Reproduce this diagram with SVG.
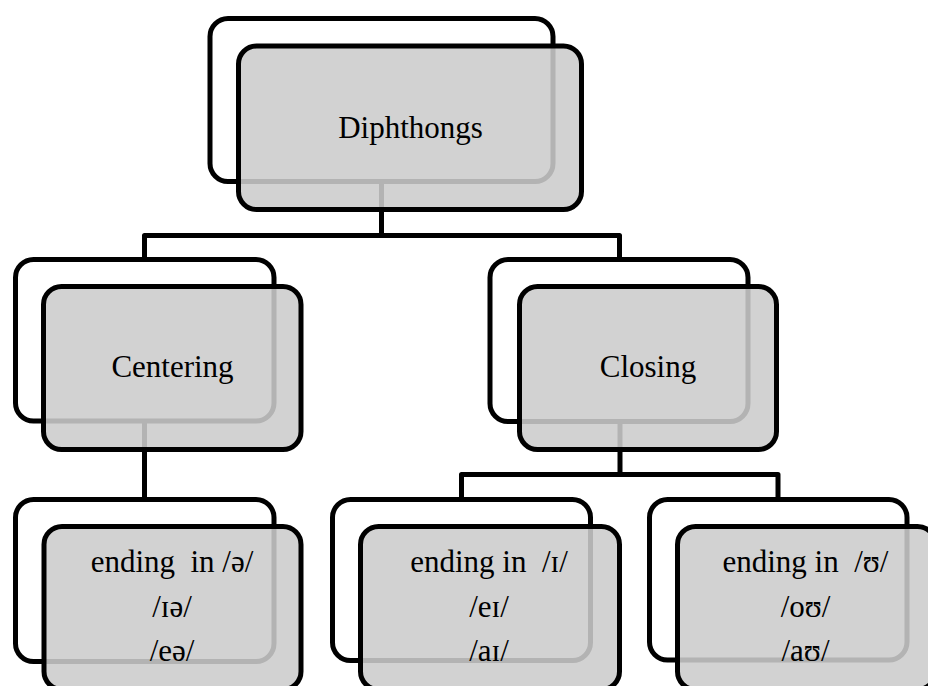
<svg xmlns="http://www.w3.org/2000/svg" width="928" height="686" viewBox="0 0 928 686">
  <style>
    .back { fill: #ffffff; stroke: #000000; stroke-width: 5; }
    .front { fill: #cccccc; fill-opacity: 0.88; stroke: #000000; stroke-width: 5; }
    .wire { fill: none; stroke: #000000; stroke-width: 5; stroke-linejoin: round; }
    .label { font-family: "Liberation Serif", "DejaVu Serif", "Times New Roman", serif; font-size: 31px; fill: #000000; text-anchor: middle; }
  </style>
  <rect width="928" height="686" fill="#ffffff"/>

  <!-- elbow connectors, drawn beneath the nodes -->
  <g id="connectors">
    <path class="wire" d="M381.5,150 V235.5"/>
    <path class="wire" d="M144.5,262 V235.5 H619.5 V262"/>
    <path class="wire" d="M144.5,400 V502"/>
    <path class="wire" d="M620,400 V474.5"/>
    <path class="wire" d="M461.5,502 V474.5 H778 V502"/>
  </g>

  <g id="diphthongs">
    <rect class="back" x="210" y="18.5" width="343" height="163" rx="18"/>
    <rect class="front" x="238.5" y="46" width="343" height="163.5" rx="18"/>
    <text class="label" x="410.5" y="137.5">Diphthongs</text>
  </g>

  <g id="centering">
    <rect class="back" x="15.5" y="259.5" width="258.5" height="161.5" rx="18"/>
    <rect class="front" x="43.5" y="286.5" width="257.5" height="163" rx="18"/>
    <text class="label" x="172.5" y="377">Centering</text>
  </g>

  <g id="closing">
    <rect class="back" x="490" y="259.5" width="258" height="162" rx="18"/>
    <rect class="front" x="519.5" y="286.5" width="257" height="163" rx="18"/>
    <text class="label" x="648" y="377">Closing</text>
  </g>

  <g id="ending-schwa">
    <rect class="back" x="15.5" y="499.5" width="258.5" height="162" rx="18"/>
    <rect class="front" x="44" y="526.5" width="257" height="163" rx="18"/>
    <text class="label" x="172" y="571.5" xml:space="preserve">ending  in /ə/</text>
    <text class="label" x="172" y="617">/ɪə/</text>
    <text class="label" x="172" y="661">/eə/</text>
  </g>

  <g id="ending-i">
    <rect class="back" x="332.5" y="499.5" width="258" height="161" rx="18"/>
    <rect class="front" x="360.5" y="526.5" width="259" height="163" rx="18"/>
    <text class="label" x="489" y="571.5" xml:space="preserve">ending in  /ɪ/</text>
    <text class="label" x="489" y="617">/eɪ/</text>
    <text class="label" x="489" y="661">/aɪ/</text>
  </g>

  <g id="ending-u">
    <rect class="back" x="649.5" y="499.5" width="257.5" height="160.5" rx="18"/>
    <rect class="front" x="677.5" y="526.5" width="258" height="163" rx="18"/>
    <text class="label" x="805.5" y="571.5" xml:space="preserve">ending in  /ʊ/</text>
    <text class="label" x="805.5" y="617">/oʊ/</text>
    <text class="label" x="805.5" y="661">/aʊ/</text>
  </g>
</svg>
